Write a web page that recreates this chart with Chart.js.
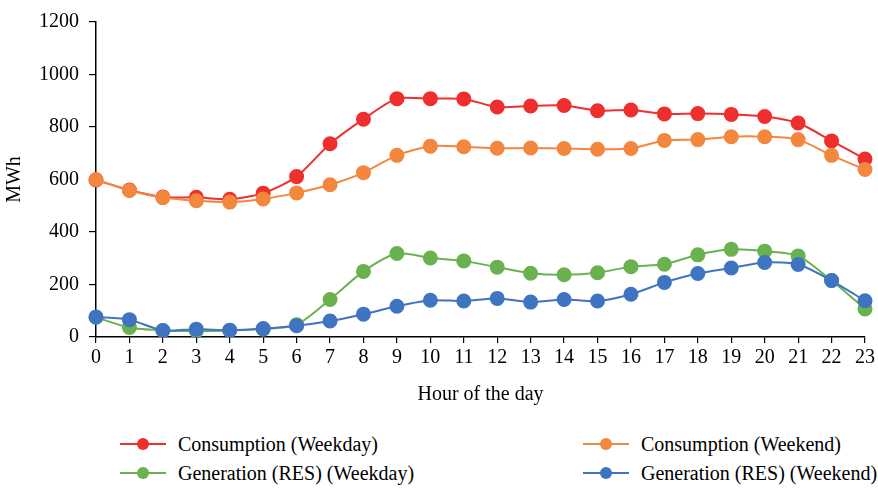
<!DOCTYPE html>
<html lang="en">
<head>
  <meta charset="UTF-8">
  <title>Hourly consumption and generation</title>
  <script src="https://cdn.jsdelivr.net/npm/chart.js"></script>
  <style>
    html, body { margin: 0; padding: 0; background: #fff; }
    #wrap { position: relative; width: 878px; height: 488px; }
    #chartBox { position: absolute; left: 0; top: 0; width: 878px; height: 410px; }
    #legend { position: absolute; left: 0; top: 430px; width: 878px; font-family: "Liberation Serif", "Times New Roman", serif; font-size: 20px; color: #000; }
    .item { position: absolute; display: flex; align-items: center; height: 24px; white-space: nowrap; }
    .mark { position: relative; width: 46px; height: 24px; margin-right: 12px; }
    .mark .ln { position: absolute; left: 0; right: 0; top: 11px; height: 2px; }
    .mark .dot { position: absolute; left: 17px; top: 6px; width: 12px; height: 12px; border-radius: 50%; }
  </style>
</head>
<body>
  <div id="wrap">
    <div id="chartBox"><canvas id="energyChart"></canvas></div>
    <div id="legend"></div>
  </div>

  <script>
    // hour of the day
    const hours = ['0','1','2','3','4','5','6','7','8','9','10','11','12','13','14','15','16','17','18','19','20','21','22','23'];

    // MWh
    const consWeekday = [598, 560, 533, 532, 525, 548, 611, 736, 830, 908, 908, 907, 876, 880, 882, 862, 865, 850, 851, 848, 840, 815, 747, 678];
    const consWeekend = [600, 558, 531, 519, 514, 526, 549, 580, 626, 692, 727, 725, 719, 720, 718, 715, 718, 749, 752, 763, 763, 752, 692, 638];
    const genWeekday  = [75, 36, 25, 23, 25, 30, 47, 143, 250, 318, 301, 290, 266, 243, 237, 245, 268, 277, 313, 334, 327, 309, 215, 107];
    const genWeekend  = [76, 66, 25, 30, 26, 32, 43, 61, 87, 117, 140, 137, 147, 133, 143, 137, 163, 208, 242, 263, 284, 276, 215, 138];

    const yTicks = [0, 200, 400, 600, 800, 1000, 1200];

    const serif = '"Liberation Serif", "Times New Roman", serif';

    function series(label, data, color, order) {
      return {
        label: label,
        data: data,
        borderColor: color,
        backgroundColor: color,
        pointBackgroundColor: color,
        pointBorderColor: color,
        borderWidth: 2,
        pointRadius: 6.5,
        pointHoverRadius: 6.5,
        tension: 0.25,
        order: order
      };
    }

    const datasets = [
      series('Consumption (Weekday)', consWeekday, '#EE2F2E', 4),
      series('Consumption (Weekend)', consWeekend, '#F2873D', 3),
      series('Generation (RES) (Weekday)', genWeekday, '#6AB150', 2),
      series('Generation (RES) (Weekend)', genWeekend, '#3F74C2', 1)
    ];

    const ctx = document.getElementById('energyChart').getContext('2d');
    const energyChart = new Chart(ctx, {
      type: 'line',
      data: { labels: hours, datasets: datasets },
      options: {
        responsive: true,
        maintainAspectRatio: false,
        animation: false,
        layout: { padding: { top: 15, right: 12, left: 0, bottom: 0 } },
        scales: {
          x: {
            offset: false,
            afterFit: function(s) { s.height = 73; },
            grid: { drawOnChartArea: false, drawTicks: true, tickLength: 6, color: '#000', lineWidth: 1.2 },
            border: { color: '#000', width: 1.5 },
            ticks: { color: '#000', font: { family: serif, size: 20 }, padding: 3, maxRotation: 0, autoSkip: false },
            title: { display: true, text: 'Hour of the day', color: '#000', font: { family: serif, size: 20 }, padding: { top: 0, bottom: 3 } }
          },
          y: {
            min: 0,
            max: 1200,
            afterFit: function(s) { s.width = 96; },
            grid: { drawOnChartArea: false, drawTicks: true, tickLength: 7, color: '#000', lineWidth: 1.2 },
            border: { color: '#000', width: 1.5 },
            ticks: {
              stepSize: 100,
              color: '#000',
              font: { family: serif, size: 20 },
              padding: 10,
              callback: function(v) { return yTicks.includes(v) ? String(v) : ''; }
            },
            title: { display: true, text: 'MWh', color: '#000', font: { family: serif, size: 20 }, padding: { top: 3, bottom: 0 } }
          }
        },
        plugins: {
          legend: { display: false },
          tooltip: { enabled: false }
        }
      }
    });

    // two-column legend under the chart
    const legendPos = [[120, 0], [583, 0], [120, 29], [583, 29]];
    const legendBox = document.getElementById('legend');
    datasets.forEach(function(ds, i) {
      const item = document.createElement('div');
      item.className = 'item';
      item.style.left = legendPos[i][0] + 'px';
      item.style.top = (legendPos[i][1] + 2) + 'px';
      item.innerHTML = '<span class="mark"><span class="ln" style="background:' + ds.borderColor + '"></span>' +
        '<span class="dot" style="background:' + ds.borderColor + '"></span></span>' +
        '<span>' + ds.label + '</span>';
      legendBox.appendChild(item);
    });
  </script>
</body>
</html>
